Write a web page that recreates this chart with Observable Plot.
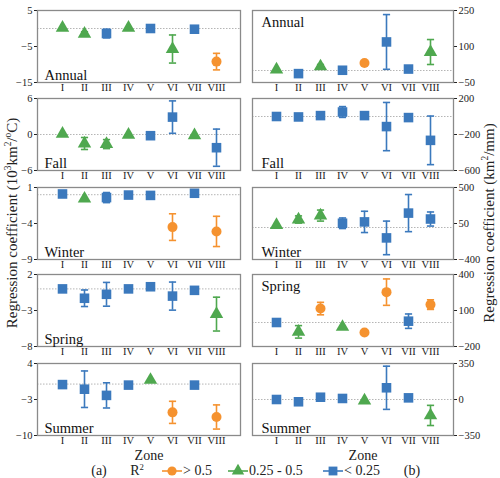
<!DOCTYPE html>
<html>
<head>
<meta charset="utf-8">
<script src="https://cdn.jsdelivr.net/npm/d3@7"></script>
<script src="https://cdn.jsdelivr.net/npm/@observablehq/plot@0.6"></script>
<style>
  body { margin: 0; background: #fff; }
  #root { position: relative; width: 500px; height: 478px; color: #222; overflow: hidden; }
  .abs { position: absolute; white-space: nowrap; }
</style>
</head>
<body>
<div id="root"></div>
<script>
const zones = ["I","II","III","IV","V","VI","VII","VIII"];

// Temperature (left, 10^3 km2/°C): value, half error bar, R2 class (h: >0.5, m: 0.25-0.5, l: <0.25)
const tAnnual   = [0.2, -1.5, -1.4, 0.2, 0, -5.7, -0.2, -9.2];
const tAnnualE  = [0, 0.6, 1.2, 0, 0, 3.9, 0, 2.3];
const tAnnualR  = ["m","m","l","m","l","m","l","h"];
const tFall     = [0.1, -1.5, -1.6, -0.05, -0.2, 2.9, -0.15, -2.2];
const tFallE    = [0, 1.0, 0.75, 0, 0, 2.7, 0, 3.1];
const tFallR    = ["m","m","m","m","l","l","m","l"];
const tWinter   = [0.1, -0.55, -0.4, -0.05, -0.1, -4.5, 0.2, -5.1];
const tWinterE  = [0, 0, 0.7, 0, 0, 1.85, 0, 2.1];
const tWinterR  = ["l","m","l","l","l","h","l","h"];
const tSpring   = [0, -1.3, -0.75, 0, 0.3, -1.0, -0.2, -3.5];
const tSpringE  = [0, 1.15, 1.65, 0, 0, 1.95, 0, 2.35];
const tSpringR  = ["l","l","l","l","l","l","l","m"];
const tSummer   = [-0.1, -1.0, -2.2, -0.2, 0.8, -5.5, -0.2, -6.4];
const tSummerE  = [0, 3.55, 2.45, 0, 0, 2.15, 0, 2.35];
const tSummerR  = ["l","l","l","l","m","h","l","h"];

// Precipitation (right, km2/mm)
const pAnnual   = [4, -13, 17, 1, 31, 119, 6, 77];
const pAnnualE  = [0, 0, 8, 0, 0, 114, 8, 52];
const pAnnualR  = ["m","l","m","l","h","l","l","m"];
const pFall     = [0, -5, 10, 50, 10, -112, -12, -265];
const pFallE    = [0, 0, 0, 60, 0, 268, 0, 270];
const pFallR    = ["l","l","l","l","l","l","l","l"];
const pWinter   = [30, 100, 149, 53, 70, -130, 180, 106];
const pWinterE  = [0, 45, 69, 66, 133, 210, 232, 88];
const pWinterR  = ["m","m","m","l","l","l","l","l"];
const pSpring   = [0, -78, 116, -37, -83, 253, 11, 149];
const pSpringE  = [0, 52, 52, 0, 0, 110, 60, 40];
const pSpringR  = ["l","m","h","m","h","h","l","h"];
const pSummer   = [0, -22, 22, 10, -10, 114, 16, -155];
const pSummerE  = [0, 0, 0, 0, 0, 210, 0, 98];
const pSummerR  = ["l","l","l","l","m","l","l","m"];

// Axis domains and tick labels
const tDomains = [[-15, 5], [-6, 6], [-9, 1], [-8, 2], [-10, 4]];
const tTicks   = [[5, -5, -15], [6, 0, -6], [1, -4, -9], [2, -3, -8], [4, -3, -10]];
const pDomains = [[-50, 250], [-600, 200], [-400, 500], [-200, 400], [-350, 350]];
const pTicks   = [[250, 100, -50], [200, -200, -600], [500, 50, -400], [400, 100, -200], [350, 0, -350]];
const seasons  = ["Annual", "Fall", "Winter", "Spring", "Summer"];
const tLabelPos = ["bottom", "bottom", "bottom", "bottom", "bottom"];
const pLabelPos = ["top", "bottom", "bottom", "top", "bottom"];

const classes = [
  {key: "h", label: "> 0.5",      color: "#F5922F", symbol: "circle",   r: 5},
  {key: "m", label: "0.25 - 0.5", color: "#4FA84F", symbol: "triangle", r: 5},
  {key: "l", label: "< 0.25",     color: "#3B79BD", symbol: "square",   r: 5.4}
];

const tSeries = [[tAnnual,tAnnualE,tAnnualR],[tFall,tFallE,tFallR],[tWinter,tWinterE,tWinterR],[tSpring,tSpringE,tSpringR],[tSummer,tSummerE,tSummerR]];
const pSeries = [[pAnnual,pAnnualE,pAnnualR],[pFall,pFallE,pFallR],[pWinter,pWinterE,pWinterR],[pSpring,pSpringE,pSpringR],[pSummer,pSummerE,pSummerR]];

// pick an installed font (prefer a Times-like serif) by measuring text
function pickFont(cands) {
  const ctx = document.createElement("canvas").getContext("2d");
  const sample = "Regression coefficient IIIVVIII 0123456789";
  for (const f of cands) {
    for (const base of ["monospace", "sans-serif"]) {
      ctx.font = "72px " + base;
      const w0 = ctx.measureText(sample).width;
      ctx.font = "72px '" + f + "', " + base;
      const w1 = ctx.measureText(sample).width;
      if (Math.abs(w1 - w0) > 0.5) return "'" + f + "', serif";
    }
  }
  return "'Liberation Sans', Arial, sans-serif";
}
const FONT = pickFont(["Liberation Serif", "Times New Roman", "Tinos", "Nimbus Roman", "Noto Serif", "DejaVu Serif"]);
const root = document.getElementById("root");
root.style.fontFamily = FONT;

const capSymbol = {
  draw(context, size) {
    const w = Math.sqrt(size / Math.PI);
    context.moveTo(-w, 0);
    context.lineTo(w, 0);
  }
};

const panelTops = [10, 98, 187, 274, 363];
const panelH = 72;
const mTop = 8, mBottom = 22;

function makePanel(series, domain, ticks, label, labelPos, side) {
  const [vals, errs, cls] = series;
  const rows = zones.map((z, i) => ({zone: z, v: vals[i], e: errs[i], c: cls[i]}));
  const errRows = rows.filter(d => d.e > 0).map(d => ({...d, lo: d.v - d.e, hi: d.v + d.e}));
  const marks = [
    Plot.ruleY([0], {stroke: "#b5b5b5", strokeWidth: 1, strokeDasharray: "1.5,1.5"}),
  ];
  for (const k of classes) {
    const er = errRows.filter(d => d.c === k.key);
    marks.push(Plot.ruleX(er, {x: "zone", y1: "lo", y2: "hi", stroke: k.color, strokeWidth: 1.6}));
    marks.push(Plot.dot(er, {x: "zone", y: "lo", symbol: capSymbol, r: 3.6, stroke: k.color, strokeWidth: 1.6, fill: "none"}));
    marks.push(Plot.dot(er, {x: "zone", y: "hi", symbol: capSymbol, r: 3.6, stroke: k.color, strokeWidth: 1.6, fill: "none"}));
  }
  for (const k of classes) {
    const pr = rows.filter(d => d.c === k.key);
    marks.push(Plot.dot(pr, {x: "zone", y: "v", symbol: k.symbol, r: k.r, fill: k.color, stroke: "none"}));
  }
  marks.push(Plot.frame({stroke: "#8a8a8a", strokeWidth: 1.3}));
  marks.push(Plot.text([label], {
    frameAnchor: labelPos === "top" ? "top-left" : "bottom-left",
    dx: side === "left" ? 7 : 9, dy: labelPos === "top" ? 6 : -3,
    fontSize: 14.5, fill: "#111"
  }));
  const isLeft = side === "left";
  return Plot.plot({
    width: isLeft ? 243 : 250,
    height: panelH + mTop + mBottom,
    marginTop: mTop,
    marginBottom: mBottom,
    marginLeft: isLeft ? 37 : 2,
    marginRight: isLeft ? 3 : 47,
    style: {fontFamily: FONT, fontSize: "10.5px", color: "#222", background: "transparent", overflow: "visible"},
    x: {type: "point", domain: zones, padding: 0.97, tickSize: 0, tickPadding: 1, label: null},
    y: {domain: domain, ticks: ticks, tickSize: 3, tickPadding: 2, label: null, axis: isLeft ? "left" : "right"},
    marks
  });
}

for (let i = 0; i < 5; i++) {
  const left = makePanel(tSeries[i], tDomains[i], tTicks[i], seasons[i], tLabelPos[i], "left");
  left.style.position = "absolute";
  left.style.left = "0px";
  left.style.top = (panelTops[i] - mTop) + "px";
  root.appendChild(left);
  const right = makePanel(pSeries[i], pDomains[i], pTicks[i], seasons[i], pLabelPos[i], "right");
  right.style.position = "absolute";
  right.style.left = "250px";
  right.style.top = (panelTops[i] - mTop) + "px";
  root.appendChild(right);
}

function addText(txt, x, y, size, anchor) {
  const s = document.createElement("div");
  s.className = "abs";
  s.innerHTML = txt;
  s.style.fontSize = size + "px";
  s.style.lineHeight = "1";
  s.style.left = x + "px";
  s.style.top = y + "px";
  s.style.transform = anchor || "translate(-50%,-50%)";
  root.appendChild(s);
  return s;
}

const SUP = "<sup style='font-size:0.62em;line-height:0;vertical-align:0.55em'>";
// axis titles
addText("Regression coefficient (10" + SUP + "3</sup>km" + SUP + "2</sup>/" + SUP + "o</sup>C)", 12, 223, 15, "translate(-50%,-50%) rotate(-90deg)");
addText("Regression coefficient (km" + SUP + "2</sup>/mm)", 489, 223, 15, "translate(-50%,-50%) rotate(-90deg)");
addText("Zone", 149, 455.5, 14);
addText("Zone", 363, 455.5, 14);

// legend
addText("(a)", 99, 471, 14);
addText("R" + SUP + "2</sup>", 137, 471, 14);
const legX = [162, 228, 323];
classes.forEach((k, i) => {
  const svg = d3.create("svg").attr("width", 20).attr("height", 14)
    .style("position", "absolute").style("left", legX[i] + "px").style("top", "464px").style("overflow", "visible");
  svg.append("line").attr("x1", 0).attr("x2", 20).attr("y1", 7).attr("y2", 7).attr("stroke", k.color).attr("stroke-width", 1.6);
  svg.append("path").attr("transform", "translate(10,7)")
    .attr("d", d3.symbol(k.symbol === "circle" ? d3.symbolCircle : k.symbol === "triangle" ? d3.symbolTriangle : d3.symbolSquare, Math.PI * k.r * k.r * 0.85)())
    .attr("fill", k.color);
  root.appendChild(svg.node());
  addText(k.label, legX[i] + 21, 471, 14, "translate(0,-50%)");
});
addText("(b)", 412, 471, 14);
</script>
</body>
</html>
